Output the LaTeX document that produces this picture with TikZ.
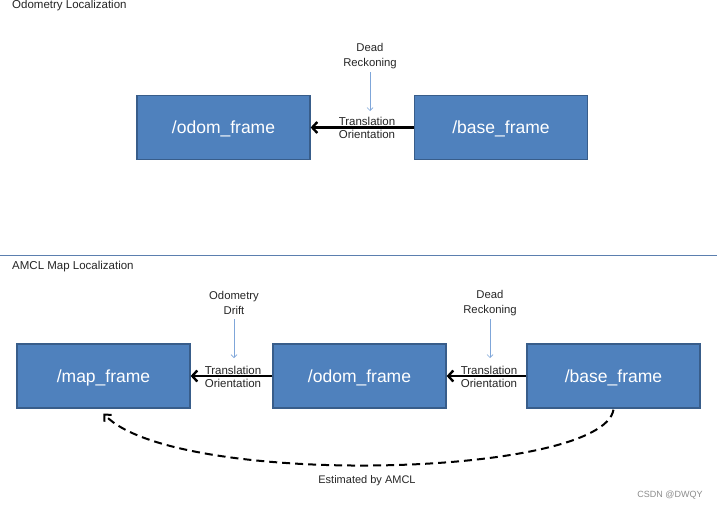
\documentclass[tikz,border=0pt]{standalone}
\usepackage{fontspec}
\setmainfont{Liberation Sans}
\usetikzlibrary{arrows.meta}
\definecolor{boxfill}{HTML}{4F81BD}
\definecolor{boxedge}{HTML}{385D8A}
\definecolor{thinblue}{HTML}{7FA6D9}
\definecolor{sepline}{HTML}{5B7FAF}
\tikzset{
  frame/.style={draw=boxedge, line width=1.3pt, fill=boxfill, text=white,
    minimum width=173pt, minimum height=64pt, inner sep=0pt,
    text height=13pt, text depth=1pt,
    font=\fontsize{17.5}{20}\selectfont},
  tf/.style={-{Straight Barb[length=5pt,width=11pt,line width=2.4pt]}, line width=2.6pt, black},
  small/.style={font=\fontsize{11.3}{14.5}\selectfont, align=center, inner sep=0pt, text=black!85},
  trlabel/.style={font=\fontsize{11.5}{13.5}\selectfont, align=center, inner sep=0pt, text=black!85},
  hint/.style={-{Straight Barb[length=3pt,width=6pt]}, thinblue, line width=0.7pt},
  title/.style={font=\fontsize{11.5}{14}\selectfont, anchor=west, inner sep=0pt, text=black!85}
}
\begin{document}
\begin{tikzpicture}[x=1pt,y=-1pt]
\useasboundingbox (0,0) rectangle (717,511);
\fill[white] (0,0) rectangle (717,511);

% Top section
\node[title] (t1) at (12,6) {Odometry Localization};
\node[frame] (odom1) at (223.5,127.5) {/odom\_frame};
\node[frame] (base1) at (501,127.5) {/base\_frame};
\draw[tf] (base1.west) -- (odom1.east);
\node[trlabel] (tr1) at (367,128) {Translation\\Orientation};
\node[small] (dr1) at (370,56) {Dead\\Reckoning};
\coordinate (dr1e) at (370,111);
\draw[hint] (370,72) -- (dr1e);

% Separator
\coordinate (sepL) at (0,255);
\coordinate (sepR) at (717,255);
\draw[sepline, line width=0.8pt] (sepL) -- (sepR);

% Bottom section
\node[title] (t2) at (12,267) {AMCL Map Localization};
\node[frame] (map2) at (103.5,376) {/map\_frame};
\node[frame] (odom2) at (359.5,376) {/odom\_frame};
\node[frame] (base2) at (613.5,376) {/base\_frame};
\draw[tf] (odom2.west) -- (map2.east);
\draw[tf] (base2.west) -- (odom2.east);
\node[trlabel] (tr2) at (233,377) {Translation\\Orientation};
\node[trlabel] (tr3) at (489,377) {Translation\\Orientation};
\node[small] (od2) at (234,303) {Odometry\\Drift};
\node[small] (dr2) at (490,303) {Dead\\Reckoning};
\coordinate (od2e) at (234,358);
\coordinate (dr2e) at (490,358);
\draw[hint] (234,319) -- (od2e);
\draw[hint] (490,319) -- (dr2e);

\draw[line width=2pt, dash pattern=on 8pt off 5pt,
  -{Straight Barb[length=5pt,width=10pt,line width=2pt]}]
  ([yshift=-1pt]base2.south) .. controls (602,478) and (175,488) .. ([yshift=-5pt]map2.south);
\node[font=\fontsize{11}{13}\selectfont, inner sep=0pt, text=black!85] (est) at (367,481) {Estimated by AMCL};
\node[font=\fontsize{9}{11}\selectfont, inner sep=0pt, text=black!45] (csdn) at (670,495) {CSDN @DWQY};
\end{tikzpicture}
\end{document}
